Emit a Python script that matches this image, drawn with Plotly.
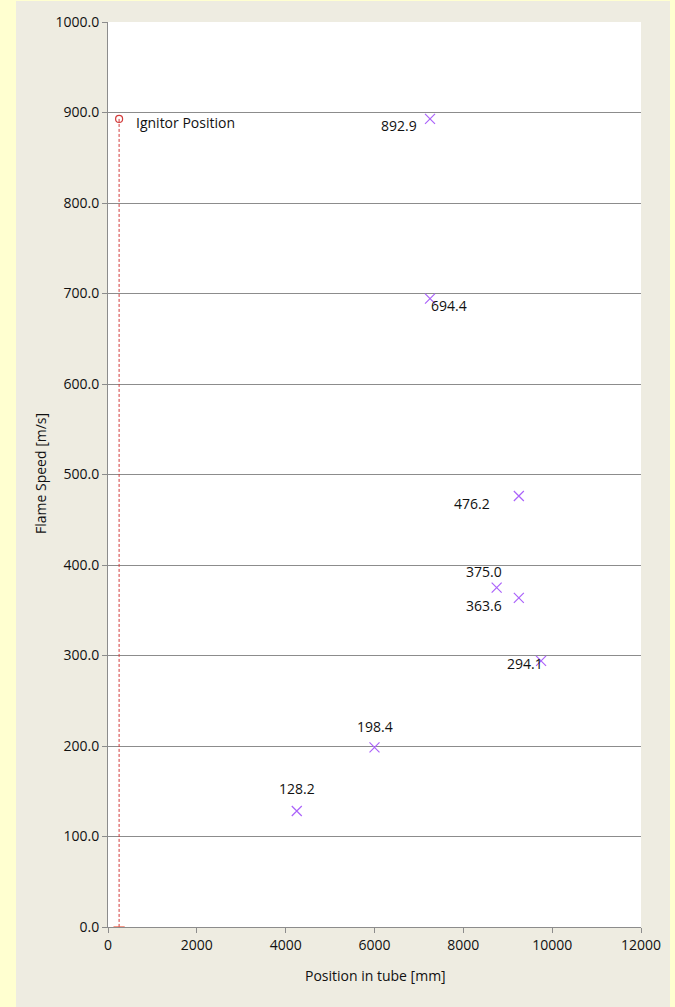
import plotly.graph_objects as go

# Data
positions = [7250, 7250, 9250, 8750, 9250, 9750, 6000, 4250]
speeds = [892.9, 694.4, 476.2, 375.0, 363.6, 294.1, 198.4, 128.2]
labels = ["892.9", "694.4", "476.2", "375.0", "363.6", "294.1", "198.4", "128.2"]
ignitor_x = [250]
ignitor_y = [892.9]
ignitor_label = "Ignitor Position"
x_title = "Position in tube [mm]"
y_title = "Flame Speed [m/s]"

# label offsets (pixels): style only
label_dx = [-31, 19, -47, -13, -35, -16, 0, 0]
label_dy = [-7, -7, -7, 16, -8, -3, 21, 22]

FONT = "'Open Sans', sans-serif"
FS = 14
marker_color = "#5C5C98"
red = "#D23B3B"

L, R, T, B = 108, 34, 22, 80
PW, PH = 675 - L - R, 1007 - T - B

fig = go.Figure()

fig.add_trace(go.Scatter(
    x=[ignitor_x[0], ignitor_x[0]], y=[ignitor_y[0], 0],
    mode="lines", line=dict(color=red, width=1, dash="3px,2px"),
    hoverinfo="skip", showlegend=False))
fig.add_trace(go.Scatter(
    x=ignitor_x, y=[0], mode="markers",
    marker=dict(symbol="line-ew-open", size=8, line=dict(color=red, width=1.2)),
    showlegend=False, hoverinfo="skip"))
fig.add_trace(go.Scatter(
    x=ignitor_x, y=ignitor_y, mode="markers",
    marker=dict(symbol="circle-open", size=7, color=red, line=dict(color=red, width=1.2)),
    showlegend=False))

fig.add_trace(go.Scatter(
    x=positions, y=speeds, mode="markers",
    marker=dict(symbol="x-thin-open", size=10, line=dict(color=marker_color, width=1.2)),
    showlegend=False))

for x, y, t, dx, dy in zip(positions, speeds, labels, label_dx, label_dy):
    fig.add_annotation(x=x, y=y, text=t, showarrow=False, xshift=dx, yshift=dy,
                       font=dict(family=FONT, size=FS, color="#111"))

fig.add_annotation(x=ignitor_x[0], y=ignitor_y[0], text=ignitor_label, showarrow=False,
                   xanchor="left", xshift=15, yshift=-4,
                   font=dict(family=FONT, size=FS, color="#111"))

# axis titles
fig.add_annotation(xref="paper", yref="paper", x=(375 - L) / PW, y=(927 - 975) / PH,
                   text=x_title, showarrow=False, xanchor="center", yanchor="middle",
                   font=dict(family=FONT, size=FS, color="#111"))
fig.add_annotation(xref="paper", yref="paper", x=(40 - L) / PW, y=(927 - 474) / PH,
                   text=y_title, showarrow=False, textangle=-90,
                   xanchor="center", yanchor="middle",
                   font=dict(family=FONT, size=FS, color="#111"))

# yellow strips around the beige panel
for x0, x1, y0, y1 in [(0, 16, 0, 1007), (670, 675, 0, 1007), (0, 675, 0, 1)]:
    fig.add_shape(type="rect", xref="paper", yref="paper", layer="below",
                  x0=(x0 - L) / PW, x1=(x1 - L) / PW,
                  y0=(927 - y1) / PH, y1=(927 - y0) / PH,
                  fillcolor="#FFFFD0", line=dict(width=0))

fig.update_layout(
    width=675, height=1007,
    margin=dict(l=L, r=R, t=T, b=B),
    paper_bgcolor="#EEECE1", plot_bgcolor="#FFFFFF",
    font=dict(family=FONT, size=FS, color="#111"),
    xaxis=dict(range=[0, 12000], dtick=2000, tick0=0, tickformat="d",
               showgrid=False, zeroline=False, automargin=False,
               showline=True, linecolor="#8C8C8C", linewidth=1,
               ticks="outside", ticklen=5, tickcolor="#8C8C8C",
               tickfont=dict(size=FS)),
    yaxis=dict(range=[0, 1000], dtick=100, tick0=0, tickformat=".1f",
               showgrid=True, gridcolor="#8C8C8C", gridwidth=1, zeroline=False,
               automargin=False,
               showline=True, linecolor="#8C8C8C", linewidth=1,
               ticks="outside", ticklen=5, tickcolor="#8C8C8C",
               tickfont=dict(size=FS)),
)

fig.write_html("out.html",
               config={"displayModeBar": False},
               post_script="document.body.style.margin='0';"
                           "document.body.style.overflow='hidden';")
